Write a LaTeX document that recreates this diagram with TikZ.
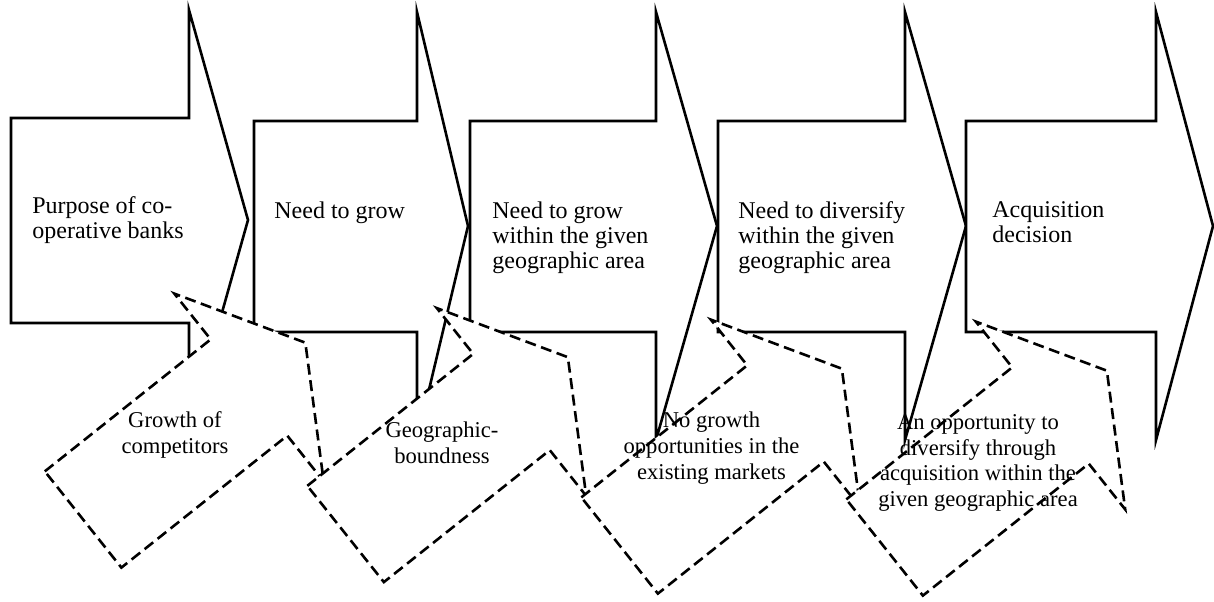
\documentclass[tikz,border=0pt]{standalone}
\usepackage{fontspec}
\setmainfont{Liberation Serif}
\usetikzlibrary{positioning}

\begin{document}
\begin{tikzpicture}[x=0.5pt,y=-0.5pt,
    stepshape/.style={draw,fill=white,line width=1.3pt,line join=miter},
    sideshape/.style={draw,fill=white,line width=1.3pt,dash pattern=on 5.5pt off 2.8pt},
    steplabel/.style={font=\fontsize{12}{12.5}\selectfont,align=left,anchor=north west,inner sep=0pt},
    sidelabel/.style={font=\fontsize{11.3}{12.9}\selectfont,align=center,inner sep=0pt}]
  \useasboundingbox (0,0) rectangle (1214,601);

  % the five steps, left to right
  \foreach \l/\b/\t/\ty/\bt/\bb/\ht/\hb in {11/189/248/220/118/323/10/430,
      254/417/468/226/121/332/12/440, 470/656/717/226/121/332/12/440,
      718/905/966/226/121/332/12/440, 966/1156/1213/226/121/332/12/440}
    \draw[stepshape] (\l,\bt) -- (\b,\bt) -- (\b,\ht) -- (\t,\ty) -- (\b,\hb) -- (\b,\bb) -- (\l,\bb) -- cycle;

  % the tilted dashed arrows underneath
  \foreach \mx/\my in {249/387.5, 511.5/402, 785.5/413.5, 1050.5/415.5}
    \draw[sideshape,shift={(\mx,\my)},rotate=38.5] (-212,-61.5) -- (0,-61.5) -- (0,-120) -- (72,0)
      -- (0,120) -- (0,61.5) -- (-212,61.5) -- cycle;

  \node[steplabel] (purpose) at (32,196.5) {Purpose of co-\\operative banks};
  \node[steplabel] (grow) at (274,201.5) {Need to grow};
  \node[steplabel] (growarea) at (492,201.5) {Need to grow\\within the given\\geographic area};
  \node[steplabel] (diversify) at (738,201.5) {Need to diversify\\within the given\\geographic area};
  \node[steplabel] (decision) at (992,201.5) {Acquisition\\decision};

  \node[sidelabel] (competitors) at (175,435) {Growth of\\competitors};
  \node[sidelabel] (boundness) at (442,443) {Geographic-\\boundness};
  \node[sidelabel] (nomarkets) at (711.5,448) {No growth\\opportunities in the\\existing markets};
  \node[sidelabel] (opportunity) at (978,463) {An opportunity to\\diversify through\\acquisition within the\\given geographic area};
\end{tikzpicture}
\end{document}
